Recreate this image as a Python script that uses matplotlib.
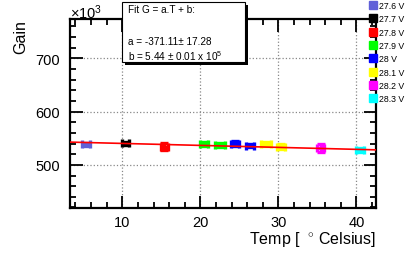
import numpy as np
import matplotlib
matplotlib.use("Agg")
import matplotlib.pyplot as plt
from matplotlib.lines import Line2D
from matplotlib.patches import Rectangle
from matplotlib.ticker import MultipleLocator

plt.rcParams['font.family'] = ['Liberation Sans', 'DejaVu Sans']
plt.rcParams['mathtext.fontset'] = 'custom'
plt.rcParams['mathtext.rm'] = 'Liberation Sans'
plt.rcParams['mathtext.it'] = 'Liberation Sans'

# --- data (gain in units of 1e3) ---
voltages = ["27.6 V", "27.7 V", "27.8 V", "27.9 V", "28 V", "28.1 V", "28.2 V", "28.3 V"]
colors = ["#6060d8", "#000000", "#ff0000", "#00ff00", "#0000ff", "#ffff00", "#ff00ff", "#00ffff"]
temps = [[5.3], [10.4], [15.4], [20.5, 22.5], [24.4, 26.4], [28.4, 30.3], [35.4], [40.4]]
gains = [[538.3], [540.2], [534.5], [539.0, 537.5], [540.0, 536.3], [539.4, 534.5], [531.5], [528.0]]
temp_err = [[0.5], [0.5], [0.5], [0.5, 0.6], [0.5, 0.5], [0.6, 0.5], [0.5], [0.5]]
gain_err = [[3.5], [3.5], [6.5], [4.0, 4.0], [4.5, 3.5], [4.5, 4.5], [8.0], [3.0]]

fit_a = -371.11   # per degree
fit_b = 5.44e5

W, H = 409, 255
fig = plt.figure(figsize=(W / 100, H / 100), dpi=100)
ax = fig.add_axes([70 / W, 1 - 209 / H, 306 / W, 189 / H])

for c, t, g, te, ge in zip(colors, temps, gains, temp_err, gain_err):
    ax.errorbar(t, g, xerr=te, yerr=ge, fmt='none', ecolor=c, elinewidth=2.4,
                capsize=2.6, capthick=2.4, zorder=3)

xs = np.array([3.3, 42.5])
ax.plot(xs, (fit_a * xs + fit_b) / 1e3, color='red', lw=1.2, zorder=4)

ax.set_xlim(3.3, 42.5)
ax.set_ylim(419, 774)
ax.xaxis.set_major_locator(MultipleLocator(10))
ax.xaxis.set_minor_locator(MultipleLocator(2))
ax.yaxis.set_major_locator(MultipleLocator(100))
ax.yaxis.set_minor_locator(MultipleLocator(20))
ax.tick_params(which='both', direction='in', top=True, right=True, width=1.3,
               labelsize=10.5)
ax.tick_params(which='major', length=9)
ax.tick_params(which='minor', length=4.5)
ax.tick_params(axis='x', pad=5)
ax.tick_params(axis='y', pad=7)
ax.grid(True, which='major', linestyle=':', color='#888888', lw=0.9)
for s in ax.spines.values():
    s.set_linewidth(1.6)

ax.set_ylabel("Gain", fontsize=11.5, loc='top', labelpad=5)
ax.set_xlabel(r"Temp [  $^{\circ}$ Celsius]", fontsize=11.5, loc='right', labelpad=0)
fig.text(70 / W, 1 - 13 / H, r"×10$^{3}$", fontsize=10.5, va='center', ha='left')

# fit box with shadow
fig.patches.append(Rectangle((125 / W, 1 - 66 / H), 123 / W, 60 / H, transform=fig.transFigure,
                             facecolor='black', edgecolor='none', zorder=5))
fig.patches.append(Rectangle((122 / W, 1 - 63 / H), 123 / W, 60 / H, transform=fig.transFigure,
                             facecolor='white', edgecolor='black', lw=0.8, zorder=6))
fig.text(128 / W, 1 - 10 / H, "Fit G = a.T + b:", fontsize=7.2, va='center', zorder=7)
fig.text(128 / W, 1 - 42 / H, "a = -371.11± 17.28", fontsize=7.2, va='center', zorder=7)
fig.text(128 / W, 1 - 56 / H, r"b = 5.44 ± 0.01 x 10$^{5}$", fontsize=7.2, va='center', zorder=7)

handles = [Line2D([], [], marker='s', color=c, ls='none', markersize=5.5) for c in colors]
leg = fig.legend(handles, voltages, loc='upper left', bbox_to_anchor=(369 / W, 1 - 1 / H),
                 frameon=False, fontsize=6.3, handlelength=0.8, handletextpad=0.2,
                 labelspacing=0.5, borderaxespad=0.0, borderpad=0.1)
leg.set_zorder(10)

fig.savefig("out.png", dpi=100)
